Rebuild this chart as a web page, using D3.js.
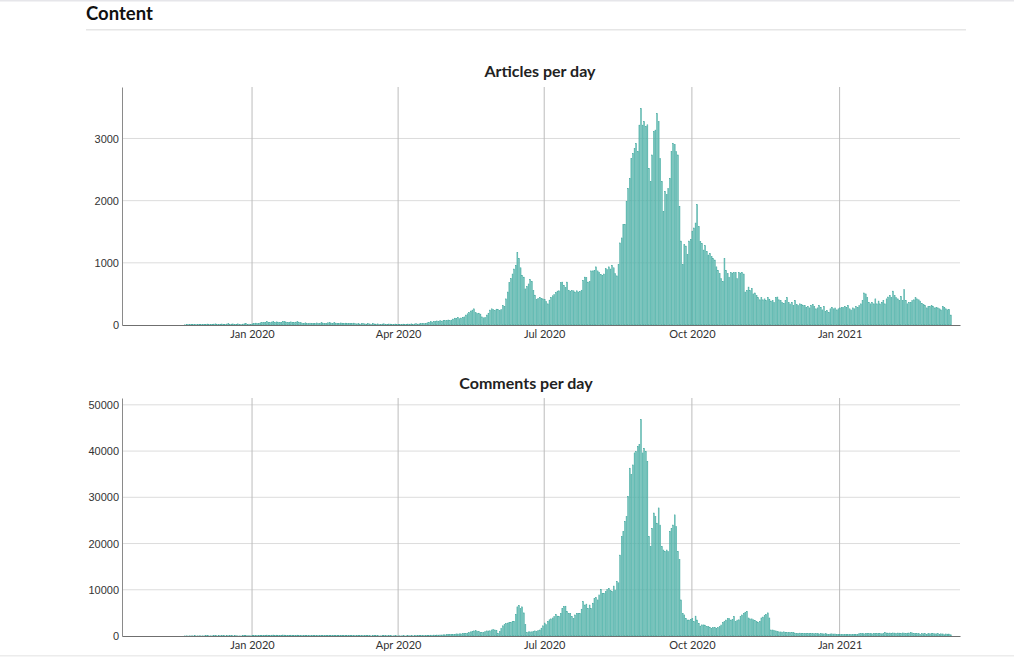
<!DOCTYPE html>
<html>
<head>
<meta charset="utf-8">
<script src="https://cdn.jsdelivr.net/npm/d3@7"></script>
<style>
  body { margin: 0; background: #fff; font-family: Lato, "Open Sans", sans-serif; }
  .heading { font-family: Lato, sans-serif; font-weight: 700; font-size: 18.5px; fill: #111; }
  .title { font-family: Lato, sans-serif; font-weight: 700; font-size: 16px; fill: #222; }
  .xaxis text { font-family: Lato, sans-serif; font-size: 11px; fill: #333; }
  .yaxis text { font-family: "Liberation Sans", Arial, sans-serif; font-size: 11px; fill: #333; }
</style>
</head>
<body>
<div id="chart"></div>
<script>
// first day of each block of daily values
const monthStarts = ["2019-11-20", "2019-12-01", "2020-01-01", "2020-02-01", "2020-03-01", "2020-04-01",
  "2020-05-01", "2020-06-01", "2020-07-01", "2020-08-01", "2020-09-01", "2020-10-01", "2020-11-01",
  "2020-12-01", "2021-01-01", "2021-02-01", "2021-03-01"];

// articles per day, one row per month
const articlesByMonth = [
  [3, 5, 8, 4, 6, 10, 7, 5, 9, 12, 8],
  [10, 6, 12, 15, 8, 11, 9, 14, 18, 10, 7, 13, 16, 12, 9, 15, 20, 11, 14, 17, 9, 12, 18, 8, 6, 14, 19, 22, 12, 15, 10],
  [18, 25, 30, 22, 28, 35, 42, 38, 45, 52, 40, 36, 48, 55, 44, 50, 46, 38, 42, 58, 52, 47, 40, 45, 50, 43, 38, 46, 52, 41, 36],
  [30, 28, 35, 25, 22, 30, 27, 20, 24, 33, 28, 25, 38, 30, 26, 22, 35, 40, 32, 28, 36, 30, 25, 27, 33, 29, 24, 30, 26],
  [28, 22, 25, 30, 20, 18, 24, 15, 20, 26, 18, 14, 22, 17, 12, 20, 16, 14, 18, 12, 10, 15, 19, 13, 11, 16, 14, 10, 12, 15, 11],
  [8, 12, 10, 14, 9, 11, 15, 13, 18, 12, 16, 20, 14, 18, 22, 25, 20, 28, 35, 42, 55, 48, 60, 52, 65, 58, 70, 62, 75, 68],
  [72, 80, 68, 78, 95, 110, 105, 118, 100, 112, 125, 130, 160, 180, 200, 225, 240, 260, 200, 185, 190, 175, 130, 115, 125, 160, 190, 240, 260, 250, 230],
  [255, 245, 230, 250, 310, 300, 420, 530, 680, 745, 820, 900, 960, 1170, 1070, 920, 800, 770, 580, 620, 660, 730, 700, 555, 480, 410, 430, 445, 430, 420],
  [410, 380, 340, 400, 445, 470, 490, 520, 545, 550, 680, 690, 640, 600, 690, 560, 545, 555, 550, 530, 550, 530, 540, 560, 720, 770, 760, 690, 700, 870, 870],
  [880, 935, 870, 850, 815, 800, 820, 910, 890, 935, 900, 960, 920, 825, 790, 975, 1320, 1400, 1615, 1620, 1990, 2200, 2360, 2680, 2760, 2840, 2920, 2790, 3215, 3480, 3215],
  [3270, 3190, 3220, 2520, 2310, 2735, 3110, 3135, 3400, 3270, 2680, 2310, 1830, 2150, 2095, 2200, 2360, 2790, 2920, 2900, 2790, 2735, 1910, 1350, 975, 1295, 1270, 1135, 1350, 1375],
  [1510, 1560, 1640, 1935, 1580, 1340, 1310, 1205, 1275, 1180, 1125, 1150, 1100, 1070, 1045, 935, 880, 825, 745, 700, 1070, 880, 825, 770, 840, 835, 845, 840, 745, 840, 835],
  [845, 820, 530, 555, 610, 555, 585, 500, 515, 475, 440, 405, 440, 405, 420, 395, 440, 415, 385, 395, 365, 440, 450, 405, 395, 365, 350, 395, 440, 365],
  [340, 365, 315, 395, 330, 315, 340, 330, 315, 315, 285, 297, 275, 315, 330, 297, 260, 275, 315, 285, 243, 297, 220, 230, 200, 260, 285, 260, 275, 243, 260],
  [275, 285, 285, 297, 285, 315, 260, 243, 275, 260, 297, 285, 315, 340, 395, 515, 500, 440, 365, 340, 365, 340, 420, 340, 385, 340, 365, 395, 340, 420, 450],
  [475, 440, 545, 475, 440, 420, 395, 460, 395, 570, 395, 340, 365, 365, 395, 405, 440, 420, 405, 385, 350, 330, 315, 275, 297, 297, 315, 300],
  [275, 285, 275, 260, 243, 297, 285, 260, 243, 250, 160]
];

// comments per day, one row per month
const commentsByMonth = [
  [20, 35, 15, 40, 25, 30, 50, 20, 35, 45, 30],
  [40, 25, 55, 60, 35, 45, 30, 70, 50, 40, 65, 35, 55, 80, 45, 60, 40, 75, 50, 35, 60, 45, 30, 25, 40, 55, 70, 60, 45, 50, 35],
  [60, 90, 110, 85, 120, 150, 130, 170, 140, 190, 160, 130, 175, 200, 150, 180, 140, 120, 165, 210, 185, 150, 130, 160, 175, 145, 120, 155, 180, 140, 125],
  [110, 95, 130, 90, 80, 105, 120, 85, 75, 115, 100, 90, 140, 110, 95, 80, 125, 150, 115, 100, 130, 105, 85, 95, 120, 100, 80, 110, 90],
  [95, 75, 85, 100, 70, 60, 85, 55, 70, 90, 65, 50, 75, 60, 45, 70, 55, 50, 65, 45, 40, 55, 65, 50, 40, 55, 50, 35, 45, 55, 40],
  [30, 45, 35, 50, 30, 40, 55, 45, 65, 40, 55, 70, 50, 65, 80, 90, 70, 100, 120, 150, 180, 160, 200, 170, 210, 190, 240, 220, 260, 250],
  [300, 280, 320, 310, 340, 380, 450, 430, 470, 460, 500, 560, 600, 620, 700, 900, 1030, 1100, 1180, 1050, 950, 750, 780, 760, 950, 1100, 1080, 1120, 1300, 1470, 1300],
  [1250, 600, 950, 1700, 2200, 2430, 2650, 2800, 2950, 2950, 3150, 3200, 4650, 6300, 6600, 5900, 6300, 5000, 2430, 750, 900, 900, 900, 950, 1100, 950, 1180, 1300, 1700, 2200],
  [2800, 2430, 3150, 3500, 3700, 3900, 4250, 4650, 4300, 4200, 4900, 6000, 6350, 6450, 5300, 4900, 4900, 4200, 3800, 4550, 4900, 4900, 4900, 5800, 7450, 6700, 6900, 6000, 6700, 6000, 7100],
  [8150, 8300, 7800, 8900, 10100, 9250, 9250, 9600, 10100, 10300, 9800, 9600, 10800, 9950, 11800, 11500, 17500, 21500, 22600, 24800, 25800, 30200, 36300, 34900, 37000, 39600, 39900, 41000, 41400, 46800, 39600],
  [40600, 39900, 37800, 21500, 19350, 23300, 26600, 25800, 24400, 27700, 24000, 19350, 18600, 18300, 18600, 18300, 22600, 23300, 24000, 26200, 23700, 18300, 16500, 7800, 4900, 4550, 3800, 3450, 3450, 3600],
  [3800, 3100, 4300, 3450, 2750, 2150, 2400, 2400, 2350, 2000, 2000, 1900, 1650, 1800, 1900, 1650, 1800, 2000, 2400, 2900, 3100, 3450, 3800, 3800, 3450, 3600, 4200, 3100, 3450, 3500, 4200],
  [4550, 4900, 5150, 5350, 3900, 3700, 3700, 3500, 3400, 3150, 2950, 3150, 3900, 4100, 4400, 4650, 5000, 3900, 1300, 1300, 1200, 1100, 950, 900, 880, 850, 900, 820, 780, 800],
  [760, 800, 750, 620, 600, 580, 620, 560, 600, 540, 520, 580, 500, 560, 540, 480, 520, 500, 460, 520, 480, 450, 500, 420, 380, 440, 460, 420, 450, 380, 360],
  [340, 360, 350, 350, 380, 340, 360, 330, 350, 370, 340, 360, 520, 500, 540, 480, 520, 560, 500, 520, 480, 540, 520, 500, 560, 520, 480, 540, 760, 640, 620],
  [640, 600, 660, 630, 580, 640, 620, 600, 660, 640, 580, 620, 640, 760, 690, 580, 520, 500, 520, 380, 500, 480, 520, 390, 500, 480, 520, 500],
  [480, 460, 500, 390, 480, 450, 260, 440, 400, 420, 260]
];

const xDomain = ["2019-10-12", "2021-03-17"];
const xTicks = ["2020-01-01", "2020-04-01", "2020-07-01", "2020-10-01", "2021-01-01"];
const articleTicks = [0, 1000, 2000, 3000];
const commentTicks = [0, 10000, 20000, 30000, 40000, 50000];

const width = 1014;
const height = 657;
const plotLeft = 122;
const plotRight = 960;

const parseDate = d3.timeParse("%Y-%m-%d");

// turn the month rows into {date, value} records
function toDaily(byMonth) {
  const out = [];
  byMonth.forEach((row, m) => {
    const start = parseDate(monthStarts[m]);
    row.forEach((v, i) => out.push({ date: d3.timeDay.offset(start, i), value: v }));
  });
  return out;
}

const svg = d3.select("#chart")
  .append("svg")
  .attr("width", width)
  .attr("height", height);

// page decoration
svg.append("rect").attr("x", 0).attr("y", 0).attr("width", width).attr("height", 1.5).attr("fill", "#e6e6ea");
svg.append("rect").attr("x", 0).attr("y", 655).attr("width", width).attr("height", 1.5).attr("fill", "#ececec");
svg.append("text").attr("class", "heading").attr("x", 86).attr("y", 20).text("Content");
svg.append("rect").attr("x", 86).attr("y", 29).attr("width", 880).attr("height", 1.5).attr("fill", "#e6e6e6");

const xScale = d3.scaleTime()
  .domain(xDomain.map(parseDate))
  .range([plotLeft, plotRight]);

function drawPanel(byMonth, ticks, cfg) {
  const data = toDaily(byMonth);

  const yScale = d3.scaleLinear()
    .domain([0, d3.max(data, d => d.value) * 1.1])
    .range([cfg.bottom, cfg.top]);

  const g = svg.append("g");

  // horizontal grid
  g.selectAll(".hgrid")
    .data(ticks.filter(t => t > 0))
    .enter()
    .append("line")
    .attr("x1", plotLeft).attr("x2", plotRight)
    .attr("y1", d => yScale(d)).attr("y2", d => yScale(d))
    .attr("stroke", "#dcdcdc").attr("stroke-width", 1);

  // vertical grid
  g.selectAll(".vgrid")
    .data(xTicks.map(parseDate))
    .enter()
    .append("line")
    .attr("x1", d => xScale(d)).attr("x2", d => xScale(d))
    .attr("y1", cfg.top).attr("y2", cfg.bottom)
    .attr("stroke", "#bcbcbc").attr("stroke-width", 1);

  // bars
  g.selectAll(".bar")
    .data(data)
    .enter()
    .append("rect")
    .attr("x", d => xScale(d.date))
    .attr("y", d => yScale(d.value))
    .attr("width", d => Math.max(0.4, xScale(d3.timeDay.offset(d.date, 1)) - xScale(d.date) - 0.7))
    .attr("height", d => cfg.bottom - yScale(d.value))
    .attr("fill", "#8ad4cd")
    .attr("stroke", "#2f9d93")
    .attr("stroke-width", 0.45);

  // y axis
  const yAxis = g.append("g")
    .attr("class", "yaxis")
    .attr("transform", `translate(${plotLeft},0)`)
    .call(d3.axisLeft(yScale).tickValues(ticks).tickSize(0).tickPadding(3).tickFormat(d3.format("d")));
  yAxis.select(".domain").attr("stroke", "#8a8a8a");

  // x axis
  const xAxis = g.append("g")
    .attr("class", "xaxis")
    .attr("transform", `translate(0,${cfg.bottom})`)
    .call(d3.axisBottom(xScale).tickValues(xTicks.map(parseDate)).tickSize(0).tickPadding(5).tickFormat(d3.timeFormat("%b %Y")));
  xAxis.select(".domain").attr("stroke", "#6f6f6f");

  g.append("text")
    .attr("class", "title")
    .attr("x", cfg.titleX)
    .attr("y", cfg.titleY)
    .attr("text-anchor", "middle")
    .text(cfg.title);
}

drawPanel(articlesByMonth, articleTicks, { top: 87, bottom: 325, title: "Articles per day", titleX: 540, titleY: 77 });
drawPanel(commentsByMonth, commentTicks, { top: 398, bottom: 636, title: "Comments per day", titleX: 526, titleY: 389 });
</script>
</body>
</html>
